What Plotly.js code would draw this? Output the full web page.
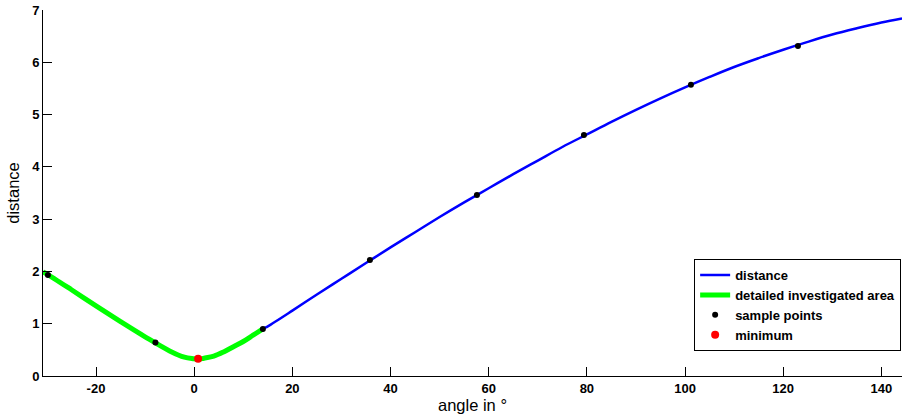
<!DOCTYPE html>
<html>
<head>
<meta charset="utf-8">
<script src="https://cdn.plot.ly/plotly-3.0.1.min.js"></script>
<style>
html,body{margin:0;padding:0;background:#fff;}
#chart{width:902px;height:416px;}
</style>
</head>
<body>
<div id="chart"></div>
<script>
// distance curve
const curveAngle = [-30.8,-30,-25,-20,-15,-10,-5,-2,0,0.8,2,4,6,8,10,12,14,15,20,25,30,35,40,45,50,55,60,65,70,75,80,85,90,95,100,105,110,115,120,125,130,135,140,144.2];
const curveDist  = [1.99,1.95,1.65,1.34,1.04,0.75,0.48,0.36,0.33,0.32,0.34,0.38,0.46,0.56,0.66,0.78,0.90,0.95,1.25,1.56,1.86,2.16,2.46,2.75,3.04,3.32,3.59,3.86,4.12,4.38,4.62,4.86,5.09,5.31,5.52,5.72,5.91,6.08,6.24,6.39,6.53,6.65,6.76,6.84];

// detailed investigated area
const areaAngle = [-30.8,-30,-25,-20,-15,-10,-5,-2,0,0.8,2,4,6,8,10,12,14];
const areaDist  = [1.99,1.95,1.65,1.34,1.04,0.75,0.48,0.36,0.33,0.32,0.34,0.38,0.46,0.56,0.66,0.78,0.90];

// sample points
const sampleAngle = [-29.8,-7.9,14.0,35.8,57.6,79.4,101.2,123.0];
const sampleDist  = [1.93,0.64,0.90,2.22,3.46,4.61,5.57,6.31];

// minimum
const minAngle = [0.8];
const minDist  = [0.33];

const xTicks = [-20,0,20,40,60,80,100,120,140];
const yTicks = [0,1,2,3,4,5,6,7];

const traces = [
  {x: curveAngle, y: curveDist, mode: 'lines', name: 'distance',
   line: {color: '#0000ff', width: 2.5, shape: 'spline'}},
  {x: areaAngle, y: areaDist, mode: 'lines', name: 'detailed investigated area',
   line: {color: '#00ff00', width: 5, shape: 'spline'}},
  {x: sampleAngle, y: sampleDist, mode: 'markers', name: 'sample points',
   marker: {color: '#000000', size: 6}},
  {x: minAngle, y: minDist, mode: 'markers', name: 'minimum',
   marker: {color: '#ff0000', size: 8}}
];

const FAM = 'Liberation Sans, Arial, sans-serif';
const tickFont = {family: FAM, size: 13, color: '#000'};
const bold = v => '<b>' + v + '</b>';

const layout = {
  width: 902, height: 416,
  margin: {l: 43, r: 0, t: 10, b: 40},
  paper_bgcolor: '#fff', plot_bgcolor: '#fff',
  showlegend: true,
  legend: {
    x: 0.999, xanchor: 'right', y: 0.068, yanchor: 'bottom',
    bgcolor: '#fff', bordercolor: '#000', borderwidth: 1,
    font: {family: FAM, size: 13, color: '#000', weight: 700},
    tracegroupgap: 0, itemwidth: 30
  },
  xaxis: {
    range: [-30.8, 144.2], tickvals: xTicks, ticktext: xTicks.map(bold),
    showgrid: false, zeroline: false, showline: true, linecolor: '#000', linewidth: 1,
    ticks: 'inside', ticklen: 9, tickcolor: '#000', tickwidth: 1,
    tickfont: tickFont, mirror: false,
    title: {text: 'angle in °', font: {family: FAM, size: 16.5, color: '#000'}, standoff: 3}
  },
  yaxis: {
    range: [0, 7], tickvals: yTicks, ticktext: yTicks.map(bold),
    showgrid: false, zeroline: false, showline: true, linecolor: '#000', linewidth: 1,
    ticks: 'inside', ticklen: 9, tickcolor: '#000', tickwidth: 1,
    tickfont: tickFont, mirror: false,
    title: {text: 'distance', font: {family: FAM, size: 16.5, color: '#000'}, standoff: 8}
  }
};

Plotly.newPlot('chart', traces, layout, {displayModeBar: false, staticPlot: true});
</script>
</body>
</html>
